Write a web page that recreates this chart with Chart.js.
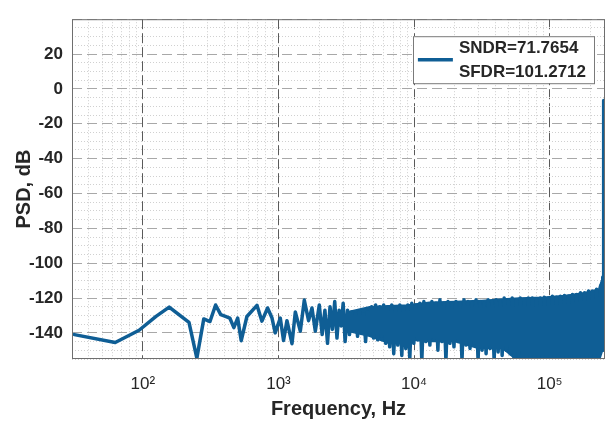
<!DOCTYPE html>
<html lang="en">
<head>
  <meta charset="UTF-8" />
  <title>PSD</title>
  <script src="https://cdn.jsdelivr.net/npm/chart.js"></script>
  <style>
    body { margin: 0; background: #fff; }
    #wrap { width: 612px; height: 425px; }
  </style>
</head>
<body>
  <div id="wrap"><canvas id="psdChart" width="612" height="425"></canvas></div>

  <script>
    // --- data ---
    const lowFreqHz = [31.25, 62.5, 93.75, 125, 156.25, 187.5, 218.75, 250, 281.25, 312.5,
      343.75, 375, 406.25, 437.5, 468.75, 500, 531.25, 585, 694, 755,
      831, 896, 946, 1031, 1090, 1155, 1258, 1331, 1449, 1550,
      1667, 1766, 1869];
    const lowPsdDb = [-141, -145.5, -138.5, -130.5, -125.2, -130, -134, -154.5, -132, -133.5,
      -124, -129.5, -130.5, -131.5, -137, -131.5, -144.5, -130.6, -124.2, -133.3,
      -125.7, -131.5, -140, -131.5, -144.4, -133, -146.2, -128, -139, -121.2,
      -133, -125.7, -139];

    // noise floor: alternating peaks / troughs of the dense part
    const bandFreqHz = [2000, 2100, 2200, 2300, 2400, 2500, 2600, 2700, 2800, 2900,
      3000, 3100, 3230, 3340, 3450, 3570, 3700, 3830, 3960, 4100,
      4240, 4390, 4540, 4700, 4860, 5030, 5210, 5390, 5580, 5770,
      5970, 6180, 6390, 6610, 6840, 7080, 7330, 7580, 7850, 8120,
      8400, 8690, 8990, 9300, 9620, 9960,
      10300, 10660, 11030, 11410, 11810, 12220, 12640, 13080, 13530, 14000,
      14490, 14990, 15510, 16050, 16600, 17180, 17780, 18390, 19030, 19690,
      20370, 21080, 21810, 22570, 23350, 24160, 25000, 25870, 26760, 27690,
      28650, 29650,
      30680, 31740, 32840, 33980, 35160, 36380, 37640, 38950, 40300, 41700,
      43140, 44640, 46190, 47790, 49450, 51160, 52940, 54770, 56670, 58640,
      60670, 62780, 64950, 67210, 69540, 71950, 74450, 77030, 79700, 82470,
      85330, 88290, 91350, 94520, 97800, 101200, 104700, 108300, 112100, 116000,
      120000, 124200, 128500, 132900, 137600, 142300, 147300, 152400, 157700, 163100,
      168800, 174600, 180700, 187000, 193500, 200200, 207100, 214300, 221700, 229400,
      237400, 243000, 246500, 248500];
    const bandPsdDb = [-124, -141, -127, -146, -125, -138, -122, -143, -127, -136,
      -123, -145, -127, -141, -128, -139, -129, -142, -128, -140,
      -129, -145, -128, -140, -125, -143, -124, -144, -125, -142,
      -124, -146, -125, -148, -124, -152, -126, -147, -124, -153,
      -125, -149, -124, -155, -123, -146,
      -124, -144, -123, -156, -122, -145, -124, -147, -122, -144,
      -123, -150, -121, -145, -123, -156, -122, -146, -124, -148,
      -122, -145, -123, -156, -121, -147, -122, -149, -123, -146,
      -121, -156,
      -122, -150, -123, -152, -121, -149, -122, -156, -121, -151,
      -122, -153, -120, -150, -121, -152, -120, -157, -121, -153,
      -120, -157, -121, -157, -120, -157, -120, -157, -121, -157,
      -120, -157, -119.5, -157, -120, -157, -119, -157, -119.5, -157,
      -119, -157, -118.5, -157, -119, -157, -118, -157, -118, -157,
      -117, -157, -117, -157, -116, -157, -116, -157, -115, -157,
      -113, -150, -108, -140];

    // solid core of the noise band (where the trace is too dense to resolve)
    const coreFreqHz = [3200, 4700, 6500, 9000, 13000, 20000, 30000, 45000, 60000, 90000,
      130000, 180000, 230000, 246000];
    const coreTopDb = [-128, -125, -124.5, -124, -122.5, -122, -121.5, -120.5, -120, -119.5,
      -118.5, -117, -115, -108];
    const coreBottomDb = [-139, -142, -146, -144, -145, -145, -149, -149, -157, -157,
      -157, -157, -157, -150];

    // test tone
    const toneFreqHz = [249300, 250000, 251500];
    const tonePsdDb = [-100, -6.6, -150];

    const xGridTicks = [30, 40, 50, 60, 70, 80, 90,
      100, 200, 300, 400, 500, 600, 700, 800, 900,
      1000, 2000, 3000, 4000, 5000, 6000, 7000, 8000, 9000,
      10000, 20000, 30000, 40000, 50000, 60000, 70000, 80000, 90000,
      100000, 200000];
    const legendLines = ['SNDR=71.7654', 'SFDR=101.2712'];
    const xTitle = 'Frequency, Hz';
    const yTitle = 'PSD, dB';

    const lineColor = '#0f5e95';
    const textColor = '#262626';
    const fontFam = "'Liberation Sans', Arial, sans-serif";
    const sup = { 2: '\u00b2', 3: '\u00b3', 4: '\u2074', 5: '\u2075' };

    const freqHz = lowFreqHz.concat(bandFreqHz, toneFreqHz);
    const psdDb = lowPsdDb.concat(bandPsdDb, tonePsdDb);
    const toPoints = (xs, ys) => xs.map((f, i) => ({ x: f, y: ys[i] }));

    const isDecade = v => {
      const e = Math.round(Math.log10(v));
      return Math.abs(v - Math.pow(10, e)) < 1e-6 * v;
    };

    // box around the axes + matlab style legend
    const frameAndLegend = {
      id: 'frameAndLegend',
      afterDatasetsDraw(chart) {
        const { ctx, chartArea: a } = chart;
        ctx.save();
        ctx.strokeStyle = '#6e6e6e';
        ctx.lineWidth = 1;
        ctx.strokeRect(a.left + 0.5, a.top + 0.5, a.right - a.left - 1, a.bottom - a.top - 1);

        ctx.font = 'bold 17px ' + fontFam;
        const textW = Math.max(...legendLines.map(t => ctx.measureText(t).width));
        const right = a.right - 11;
        const left = right - (textW + 54);
        const top = a.top + 17;
        const h = 47;
        ctx.fillStyle = '#fff';
        ctx.fillRect(left, top, right - left, h);
        ctx.strokeStyle = '#7a7a7a';
        ctx.strokeRect(Math.round(left) + 0.5, top + 0.5, Math.round(right - left), h);

        ctx.strokeStyle = lineColor;
        ctx.lineWidth = 3.5;
        ctx.beginPath();
        ctx.moveTo(left + 5, top + h / 2);
        ctx.lineTo(left + 40, top + h / 2);
        ctx.stroke();

        ctx.fillStyle = textColor;
        ctx.textBaseline = 'middle';
        ctx.textAlign = 'left';
        legendLines.forEach((t, i) => ctx.fillText(t, left + 46, top + 12.5 + i * 24));
        ctx.restore();
      }
    };

    const coreStyle = {
      borderWidth: 1.5,
      borderColor: lineColor,
      backgroundColor: lineColor,
      pointRadius: 0,
      tension: 0
    };

    new Chart(document.getElementById('psdChart'), {
      type: 'line',
      data: {
        datasets: [{
          label: 'PSD',
          data: toPoints(freqHz, psdDb),
          borderColor: lineColor,
          borderWidth: 3.5,
          borderJoinStyle: 'round',
          borderCapStyle: 'round',
          pointRadius: 0,
          tension: 0,
          fill: false,
          clip: 0
        }, {
          ...coreStyle,
          label: 'core top',
          data: toPoints(coreFreqHz, coreTopDb),
          fill: '+1'
        }, {
          ...coreStyle,
          label: 'core bottom',
          data: toPoints(coreFreqHz, coreBottomDb),
          fill: false
        }]
      },
      options: {
        responsive: false,
        devicePixelRatio: 1,
        animation: false,
        layout: { padding: { left: 0, right: 7, top: 6, bottom: 0 } },
        plugins: {
          legend: { display: false },
          tooltip: { enabled: false }
        },
        scales: {
          x: {
            type: 'logarithmic',
            min: 30,
            max: 256000,
            afterBuildTicks: s => { s.ticks = xGridTicks.map(v => ({ value: v })); },
            afterFit: s => { s.height = 66; },
            ticks: {
              autoSkip: false,
              maxRotation: 0,
              padding: 15,
              color: textColor,
              font: { family: fontFam, size: 17 },
              callback: v => isDecade(v) ? '10' + sup[Math.round(Math.log10(v))] : ''
            },
            grid: {
              drawTicks: false,
              color: c => c.tick && isDecade(c.tick.value) ? '#5a5a5a' : '#cfcfcf'
            },
            border: {
              display: false,
              dash: c => c.tick && isDecade(c.tick.value) ? [10, 4] : [1, 2]
            },
            title: {
              display: true,
              text: xTitle,
              color: textColor,
              font: { family: fontFam, size: 20, weight: 'bold' },
              padding: { top: 0, bottom: 4 }
            }
          },
          y: {
            min: -155,
            max: 40,
            afterFit: s => { s.width = 72; },
            ticks: {
              stepSize: 5,
              autoSkip: false,
              padding: 9,
              color: textColor,
              font: { family: fontFam, size: 17, weight: 'bold' },
              callback: v => (v % 20 === 0 && v < 40) ? String(v) : ''
            },
            grid: {
              drawTicks: false,
              color: c => c.tick && c.tick.value % 20 === 0 ? '#a8a8a8' : '#d0d0d0'
            },
            border: {
              display: false,
              dash: c => c.tick && c.tick.value % 20 === 0 ? [10, 5] : [1, 2]
            },
            title: {
              display: true,
              text: yTitle,
              color: textColor,
              font: { family: fontFam, size: 20, weight: 'bold' },
              padding: { top: 12, bottom: 0 }
            }
          }
        }
      },
      plugins: [frameAndLegend]
    });
  </script>
</body>
</html>
